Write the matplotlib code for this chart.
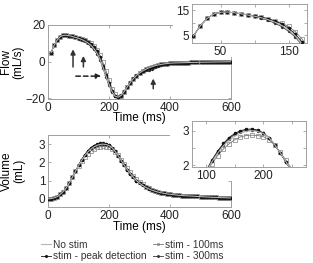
import matplotlib
matplotlib.use('Agg')
import matplotlib.pyplot as plt
from matplotlib.patches import Rectangle
import numpy as np

plt.rcParams['font.family'] = ['Liberation Sans', 'DejaVu Sans']

# flow, sampled every 10 ms from 10 to 600 ms
t_flow = np.arange(10, 601, 10)
flow_head = [4.8, 8.8, 11.8, 13.6, 14.3, 14.4, 14.1, 13.7]
flow_tail = [-0.8, -0.75, -0.7, -0.65, -0.6, -0.55, -0.5, -0.47, -0.44, -0.4,
             -0.37, -0.34, -0.31, -0.28, -0.25, -0.22, -0.2, -0.18, -0.15, -0.12]
flow_none = flow_head + [13.2, 12.7, 12.1, 11.3, 10.3, 9.0, 7.2, 4.8, 1.5, -3.0,
                         -8.0, -12.5, -16.5, -19.0, -19.5, -18.5, -16.3, -13.8, -11.4, -9.3,
                         -7.6, -6.3, -5.2, -4.3, -3.5, -2.9, -2.3, -1.9, -1.6, -1.3,
                         -1.1, -0.9] + flow_tail
flow_peak = flow_head + [13.3, 12.9, 12.4, 11.7, 10.8, 9.6, 7.9, 5.5, 2.3, -2.2,
                         -7.2, -12.0, -16.0, -18.8, -19.6, -18.6, -16.4, -13.9, -11.5, -9.4,
                         -7.7, -6.4, -5.1, -4.2, -3.4, -2.8, -2.3, -1.9, -1.5, -1.3,
                         -1.1, -0.9] + flow_tail
flow_100 = flow_head + [13.2, 12.7, 12.2, 11.6, 10.9, 10.0, 8.6, 6.5, 3.5, -0.5,
                        -5.0, -10.0, -14.8, -18.0, -19.4, -18.8, -16.8, -14.2, -11.7, -9.5,
                        -7.7, -6.3, -5.2, -4.3, -3.5, -2.9, -2.3, -1.9, -1.6, -1.3,
                        -1.1, -0.9] + flow_tail
flow_300 = flow_head + [13.2, 12.6, 11.9, 11.0, 9.9, 8.5, 6.7, 4.3, 1.0, -3.5,
                        -8.5, -13.0, -16.8, -19.1, -19.5, -18.4, -16.2, -13.7, -11.3, -9.2,
                        -7.5, -6.2, -5.4, -4.8, -4.4, -3.9, -3.2, -2.5, -1.9, -1.5,
                        -1.2, -1.0] + flow_tail

# volume, sampled every 10 ms from 0 to 600 ms
t_vol = np.arange(0, 601, 10)
vol_head = [0.0, 0.01, 0.05, 0.12, 0.24, 0.4, 0.6, 0.88, 1.18, 1.5]
vol_tail = [0.42, 0.37, 0.33, 0.3, 0.27, 0.25, 0.23, 0.21, 0.19, 0.18, 0.17, 0.16, 0.15,
            0.14, 0.13, 0.12, 0.11, 0.1, 0.09, 0.08, 0.08, 0.07, 0.06, 0.06, 0.05, 0.05]
vol_none = vol_head + [1.82, 2.1, 2.35, 2.56, 2.72, 2.84, 2.93, 2.98, 3.0, 2.98, 2.92, 2.8, 2.6,
                       2.36, 2.1, 1.84, 1.6, 1.38, 1.18, 1.0, 0.86, 0.74, 0.63, 0.55, 0.48] + vol_tail
vol_peak = vol_head + [1.85, 2.15, 2.41, 2.63, 2.8, 2.92, 3.0, 3.04, 3.05, 3.02, 2.94, 2.8, 2.6,
                       2.35, 2.09, 1.83, 1.59, 1.37, 1.17, 1.0, 0.86, 0.74, 0.63, 0.55, 0.48] + vol_tail
vol_100 = vol_head + [1.8, 2.05, 2.28, 2.47, 2.62, 2.74, 2.82, 2.86, 2.87, 2.86, 2.83, 2.74, 2.58,
                      2.38, 2.14, 1.9, 1.67, 1.45, 1.25, 1.07, 0.92, 0.79, 0.67, 0.58, 0.5] + vol_tail
vol_300 = vol_head + [1.83, 2.12, 2.38, 2.6, 2.77, 2.89, 2.97, 3.01, 3.02, 3.0, 2.93, 2.8, 2.6,
                      2.35, 2.09, 1.83, 1.59, 1.37, 1.17, 1.0, 0.87, 0.76, 0.66, 0.57, 0.49] + vol_tail

labels = ['No stim', 'stim - peak detection', 'stim - 100ms', 'stim - 300ms']

styles = {
    'No stim': dict(color='#b5b5b5', lw=0.8, zorder=5),
    'stim - peak detection': dict(color='#111111', lw=0.6, marker='.', ms=3, zorder=4),
    'stim - 100ms': dict(color='#777777', lw=0.6, marker='s', ms=2.2, mfc='none',
                         mec='#808080', mew=0.5, zorder=2),
    'stim - 300ms': dict(color='#333333', lw=0.6, marker='o', ms=1.4, zorder=3),
}

fs = 8.5
edge = '#a0a0a0'


def style_axes(ax):
    for s in ax.spines.values():
        s.set_color(edge)
        s.set_linewidth(0.7)
    ax.tick_params(direction='in', length=2.5, width=0.6, color=edge,
                   labelsize=fs, labelcolor='#222222', pad=2,
                   top=True, right=True)


fig = plt.figure(figsize=(3.13, 2.63), dpi=100)
ax1 = fig.add_axes([0.1534, 0.6236, 0.5847, 0.2814])
ax2 = fig.add_axes([0.1534, 0.2129, 0.5847, 0.2738])
fig.add_artist(Rectangle((0.553, 0.783), 0.447, 0.217, transform=fig.transFigure,
                         facecolor='white', edgecolor='none', zorder=1))
fig.add_artist(Rectangle((0.543, 0.312), 0.457, 0.259, transform=fig.transFigure,
                         facecolor='white', edgecolor='none', zorder=1))
in1 = fig.add_axes([0.6134, 0.8365, 0.3674, 0.1483], zorder=2)
in2 = fig.add_axes([0.6134, 0.365, 0.364, 0.1749], zorder=2)

flows = [flow_none, flow_peak, flow_100, flow_300]
vols = [vol_none, vol_peak, vol_100, vol_300]

handles = []
for lab, f, v in zip(labels, flows, vols):
    h, = ax1.plot(t_flow, f, label=lab, **styles[lab])
    handles.append(h)
    in1.plot(t_flow, f, **styles[lab])
    ax2.plot(t_vol, v, **styles[lab])
    in2.plot(t_vol, v, **styles[lab])

# top: flow
ax1.set_xlim(0, 600)
ax1.set_ylim(-20.5, 20)
ax1.set_xticks([0, 200, 400, 600])
ax1.set_yticks([-20, 0, 20])
ax1.set_xlabel('Time (ms)', fontsize=fs)
ax1.xaxis.set_label_coords(0.5, -0.17)
ax1.set_ylabel('Flow\n(mL/s)', fontsize=fs, linespacing=1.0)
ax1.yaxis.set_label_coords(-0.13, 0.5)
style_axes(ax1)

arrow = dict(arrowstyle='-|>', color='#333333', lw=1.1, mutation_scale=7)
ax1.annotate('', xy=(82, 8.2), xytext=(82, -4.5), arrowprops=arrow)
ax1.annotate('', xy=(116, 4.6), xytext=(116, -4.5), arrowprops=arrow)
ax1.annotate('', xy=(345, -7.8), xytext=(345, -16.4), arrowprops=arrow)
ax1.annotate('', xy=(183, -8.0), xytext=(82, -8.0),
             arrowprops=dict(arrowstyle='-|>', color='#222222', lw=1.1,
                             linestyle=(0, (3, 2)), mutation_scale=7))

in1.set_xlim(8, 177)
in1.set_ylim(2, 17.6)
in1.set_xticks([50, 100, 150])
in1.set_xticklabels(['50', '', '150'])
in1.set_yticks([5, 10, 15])
in1.set_yticklabels(['5', '', '15'])
style_axes(in1)

# bottom: volume
ax2.set_xlim(0, 600)
ax2.set_ylim(-0.45, 3.5)
ax2.set_xticks([0, 200, 400, 600])
ax2.set_yticks([0, 1, 2, 3])
ax2.set_xlabel('Time (ms)', fontsize=fs)
ax2.xaxis.set_label_coords(0.5, -0.19)
ax2.set_ylabel('Volume\n(mL)', fontsize=fs, linespacing=1.0)
ax2.yaxis.set_label_coords(-0.125, 0.5)
style_axes(ax2)

in2.set_xlim(75, 275)
in2.set_ylim(1.95, 3.28)
in2.set_xticks([100, 150, 200, 250])
in2.set_xticklabels(['100', '', '200', ''])
in2.set_yticks([2, 2.5, 3])
in2.set_yticklabels(['2', '', '3'])
style_axes(in2)

fig.legend(handles=handles, labels=labels, ncol=2, frameon=False,
           loc='upper left', bbox_to_anchor=(0.13, 0.088),
           fontsize=7.3, handlelength=1.0, handletextpad=0.2,
           columnspacing=0.6, labelspacing=0.15, borderpad=0, borderaxespad=0,
           markerscale=0.8, labelcolor='#333333')

fig.savefig('out.png', dpi=100)
